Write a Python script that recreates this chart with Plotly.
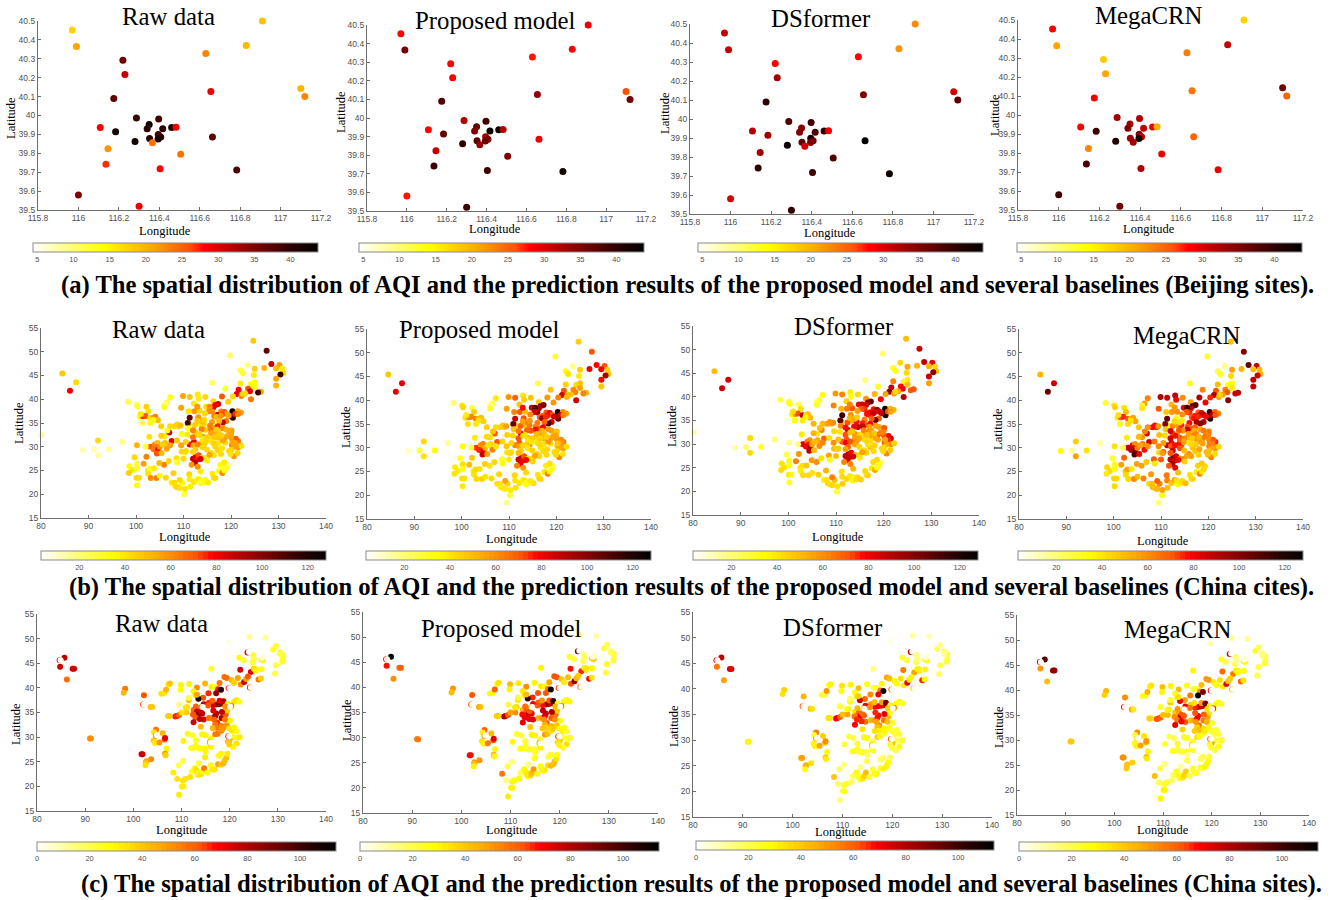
import plotly.graph_objects as go

W, H = 1333, 900
MODELS = ["Raw data", "Proposed model", "DSformer", "MegaCRN"]
CAPTIONS = [
    "(a) The spatial distribution of AQI and the prediction results of the proposed model and several baselines (Beijing sites).",
    "(b) The spatial distribution of AQI and the prediction results of the proposed model and several baselines (China cites).",
    "(c) The spatial distribution of AQI and the prediction results of the proposed model and several baselines (China sites).",
]

BJ_LON = [115.97,115.99,116.22,116.23,116.63,116.83,116.91,116.655,117.1,117.12,116.175,116.287,116.397,116.35,116.34,116.417,116.461,116.483,116.108,116.184,116.395,116.407,116.394,116.352,116.28,116.366,116.146,116.506,116.136,116.404,116.783,116.663,116.0,116.3]
BJ_LAT = [40.453,40.365,40.292,40.217,40.328,40.37,40.5,40.127,40.143,40.1,40.09,39.987,39.982,39.953,39.93,39.93,39.937,39.938,39.937,39.914,39.899,39.886,39.876,39.878,39.862,39.856,39.824,39.795,39.742,39.718,39.712,39.886,39.58,39.52]
BJ_RAW = [17.5,21,36,31,23,19.5,19,29,19.5,23,37,39,39,43,40,40,41,29,28.5,42,39,40,42,40,42,24,22,24,27,28,38,37,35,29]
BJ_PROPOSED = [28,36,28,28.5,27.5,28,29,34,26,36,38,32,39,37,35,43,42,32,28,37,33,35,36,37,40,34,31,35,39,39,42,29,27.5,39]
BJ_DSFORMER = [31,31,28,33,28,22,22.5,35,30,37,40,38,39,35,35,38,40,29,32,33,42,36,35,37,43,30,33,38,40,39,43,44,30,40]
BJ_MEGACRN = [28.5,21,18,21,23.5,31,17.5,24,36,25,29,33,32,33,35,31,29,20,28.5,39,35,31,43,33,41,33,23,29,38,32,29,25,39,36]

CITY_LON = [
124.7,127.5,119.8,128.5,123.5,127.0,125.0,122.0,122.5,124.8,
130.2,129.5,130.8,131.0,130.4,129.5,129.5,125.0,124.2,125.0,
122.0,118.8,116.1,121.6,123.6,124.0,121.2,122.2,120.4,123.0,
122.5,126.3,125.7,124.2,118.1,116.3,119.4,117.3,116.7,116.3,
109.9,111.3,113.0,113.2,114.6,107.2,106.5,106.0,106.0,109.5,
111.1,112.3,113.4,112.2,112.9,114.8,115.5,116.0,115.4,114.5,
117.9,118.6,119.1,117.1,118.1,116.5,117.0,117.8,120.3,120.4,
120.0,121.4,122.1,119.5,120.9,121.5,119.0,118.3,117.5,116.0,
113.6,114.3,112.4,111.2,110.9,111.3,113.1,113.9,114.4,112.9,
115.6,116.4,117.2,118.3,117.0,115.6,114.6,113.8,112.5,111.0,
109.0,108.2,107.2,108.7,109.4,107.0,107.5,109.6,106.6,110.8,
111.3,112.2,112.1,112.0,114.3,113.9,113.0,114.0,112.5,110.5,
112.0,112.6,112.9,112.4,113.2,111.7,114.0,113.6,112.0,114.9,
103.0,103.5,104.0,104.5,104.2,103.7,104.6,104.4,105.4,105.0,
100.2,102.2,106.5,106.1,107.2,105.6,106.0,102.0,105.9,106.9,
99.7,100.2,98.6,99.2,100.2,98.5,100.1,100.6,100.2,101.6,
102.5,102.9,102.6,103.1,103.8,104.3,104.9,106.3,105.0,107.9,
107.5,108.1,108.3,108.7,109.2,109.7,110.2,110.3,109.2,111.4,
111.2,111.3,112.2,112.9,113.3,113.5,113.8,114.2,114.5,115.2,
116.1,116.7,116.4,117.5,118.2,118.6,119.3,119.0,117.8,118.6,
115.9,115.0,116.4,115.5,114.9,117.2,117.9,117.3,118.1,116.7,
118.8,119.4,120.3,120.6,121.5,121.0,120.0,120.9,120.2,121.5,
122.2,120.6,120.1,119.6,120.6,121.4,120.3,119.9,120.0,118.8,
117.3,116.8,117.4,118.3,116.2,119.0,120.1,119.9,118.0,115.8,
109.5,109.6,110.3,110.0,108.5,108.7,113.0,113.6,114.0,105.3,
84.5,87.4,86.1,92.0,88.8,91.1,92.0,94.3,97.1,80.1,
98.3,100.1,100.3,102.2,102.6,100.8,101.5,102.0,101.0,101.3,
103.0,103.7,104.1,104.6,103.6,103.0,105.3,102.8,108.6,109.5,
113.4,114.0,115.0,116.0,116.6,113.0,112.0,110.5,114.8,116.4,
]
CITY_LAT = [
52.3,50.2,49.2,47.4,47.2,46.6,46.4,46.1,45.5,45.1,
47.2,46.5,46.4,45.5,45.2,44.3,42.9,43.6,43.2,42.6,
43.3,42.2,43.5,42.0,42.2,41.7,41.1,40.7,40.6,41.2,
41.1,41.6,41.4,40.0,40.6,39.6,39.5,39.0,38.8,38.3,
40.7,40.5,41.0,40.1,40.5,40.4,39.3,38.9,38.3,38.2,
37.5,37.5,37.6,39.1,38.4,38.4,38.4,37.4,37.5,37.0,
37.4,37.3,36.9,36.7,36.8,36.4,36.2,36.5,37.5,36.1,
36.5,37.5,37.2,36.6,36.9,36.9,35.4,35.1,35.4,35.2,
34.7,34.8,34.6,34.8,35.0,36.1,36.2,35.3,35.7,35.5,
34.4,34.0,34.3,33.9,33.6,33.8,33.6,33.7,33.0,33.9,
34.3,34.3,34.3,34.7,34.5,33.0,31.2,32.7,33.4,32.6,
30.5,31.0,30.3,32.0,30.6,30.9,30.5,29.9,29.4,29.1,
27.5,27.9,27.3,26.6,28.2,26.2,27.7,27.4,28.9,27.7,
30.0,30.0,30.5,30.8,29.9,29.5,29.3,28.6,28.7,30.0,
30.3,27.9,29.6,30.8,30.3,30.5,32.2,30.0,26.2,27.0,
27.8,26.5,25.9,25.1,25.5,24.5,23.5,23.5,21.9,26.4,
25.0,25.4,24.3,23.4,25.5,23.4,26.6,23.5,23.9,24.4,
22.4,22.4,21.7,21.5,21.3,22.4,20.0,21.1,23.0,21.6,
24.2,23.1,22.6,23.2,23.1,22.3,22.7,22.5,23.0,22.5,
24.3,23.4,23.5,24.9,24.5,25.0,26.1,25.4,26.2,26.7,
28.7,27.1,28.2,28.3,29.4,29.3,28.5,30.7,29.7,30.0,
32.0,32.4,31.5,31.3,31.2,31.7,32.0,30.8,30.3,29.9,
30.2,30.0,29.3,29.1,28.0,28.7,30.9,28.5,32.9,30.9,
31.9,32.6,32.9,31.3,31.8,33.6,33.4,32.5,32.3,32.9,
30.3,29.0,28.9,27.5,27.6,26.7,25.8,24.8,32.1,32.3,
45.4,43.6,41.8,31.3,29.3,29.4,28.2,29.4,31.0,32.5,
39.4,38.9,38.5,38.4,37.5,36.3,36.4,36.5,36.9,35.0,
36.1,36.1,36.3,35.6,35.7,35.0,34.3,32.1,31.3,18.4,
32.7,31.7,32.0,31.0,32.0,32.5,33.5,31.0,31.2,30.7,
]
CITY_RAW = [
48,105,22,85,20,52,45,25,28,38,
55,50,38,42,115,55,52,35,35,35,
38,28,22,80,72,82,82,62,42,42,
42,55,112,65,70,42,45,85,80,80,
55,48,38,38,42,32,25,18,32,55,
40,58,42,38,58,42,60,60,60,42,
62,70,55,88,72,62,50,58,125,118,
115,55,55,55,75,62,65,85,50,55,
38,45,45,40,112,105,58,48,42,48,
62,55,75,60,45,65,48,62,45,30,
48,42,42,45,50,85,82,35,30,38,
80,82,52,65,50,42,62,42,45,42,
85,85,78,88,70,58,40,85,42,38,
65,70,62,50,65,65,78,70,50,60,
52,62,55,50,55,45,38,25,62,42,
42,28,35,38,30,45,42,42,35,55,
38,30,40,60,38,62,50,42,35,45,
38,42,40,42,40,35,25,40,42,38,
42,38,40,32,38,30,28,32,35,38,
38,42,42,32,62,35,22,30,35,38,
40,38,40,55,42,45,42,38,40,42,
55,52,62,62,65,68,55,55,62,58,
40,55,45,42,58,42,55,40,58,42,
48,52,48,55,45,52,55,55,45,55,
55,42,42,42,40,30,60,38,60,45,
48,42,82,42,12,12,15,14,18,18,
25,20,30,45,40,35,75,72,38,25,
40,60,62,50,35,35,45,40,48,3,
42,38,45,38,48,42,62,45,42,45,
]
CITY_PROPOSED = [
45,72,30,80,18,82,45,35,40,38,
70,80,45,48,92,78,48,50,42,55,
45,48,25,72,60,62,85,50,62,48,
50,52,62,85,58,48,58,102,98,92,
58,68,40,45,48,38,25,18,32,55,
62,72,50,48,78,85,108,95,85,62,
70,82,70,68,78,68,95,75,122,105,
100,60,55,85,85,62,85,112,68,65,
45,65,68,50,105,85,72,62,58,55,
62,68,80,58,52,78,70,68,82,48,
45,42,42,48,55,72,72,45,48,42,
62,72,55,72,62,48,42,38,45,38,
85,88,80,82,72,62,45,80,50,40,
72,75,60,62,60,75,82,85,55,50,
35,48,62,42,40,40,40,25,40,42,
30,40,38,38,32,40,42,40,38,50,
38,42,40,42,40,45,45,42,40,42,
40,40,38,38,38,42,30,38,55,40,
42,40,40,35,40,30,32,32,38,40,
40,42,42,40,62,35,25,32,38,40,
42,45,42,55,45,42,42,40,42,40,
58,55,65,62,62,60,58,58,48,55,
40,55,42,42,62,40,48,42,45,42,
50,58,50,58,42,55,48,55,45,50,
48,40,42,38,30,35,58,42,50,42,
48,82,82,42,10,28,40,35,15,3,
22,38,42,25,45,40,60,62,38,40,
62,45,50,45,40,38,45,38,42,18,
40,40,48,40,45,42,65,42,40,42,
]
CITY_DSFORMER = [
50,85,22,88,42,52,55,30,35,42,
80,52,42,50,100,85,55,38,35,50,
62,30,20,88,78,80,100,58,55,55,
42,72,70,90,52,58,80,105,100,85,
58,62,38,35,42,35,30,25,30,62,
52,65,70,45,62,80,85,75,72,55,
78,100,85,80,82,78,78,88,125,122,
118,52,52,88,72,55,68,105,72,62,
50,78,72,48,108,115,58,55,45,52,
75,70,78,55,55,85,90,80,88,62,
52,55,52,58,60,62,68,42,50,38,
72,72,80,72,60,58,70,55,68,45,
85,90,85,85,80,62,52,85,55,42,
78,85,65,60,75,80,90,90,50,55,
18,58,60,55,62,50,38,20,60,40,
25,32,40,40,35,42,38,35,30,62,
40,40,38,42,48,42,58,45,40,52,
38,40,42,40,42,50,28,40,62,45,
40,42,42,40,38,35,35,40,42,45,
42,45,42,38,55,35,25,30,42,42,
42,38,45,55,42,48,42,42,45,40,
72,62,80,82,85,80,70,75,72,60,
45,55,42,42,62,48,55,42,55,55,
55,62,55,55,50,55,70,62,48,62,
60,50,45,50,55,35,62,52,60,52,
50,85,85,42,12,22,42,30,20,18,
25,30,32,25,40,38,60,70,40,35,
85,30,50,50,35,38,52,38,40,3,
50,55,42,45,50,48,78,50,55,42,
]
CITY_MEGACRN = [
50,100,30,105,18,52,55,25,30,42,
88,50,50,52,85,88,85,32,35,38,
50,62,32,72,62,72,92,55,75,60,
45,88,85,100,90,55,80,105,110,90,
92,85,88,80,60,62,55,28,38,72,
48,58,60,50,58,80,112,75,72,60,
72,85,88,78,85,70,78,75,112,120,
118,68,62,80,90,72,90,100,92,78,
58,75,60,35,100,105,35,40,38,42,
72,72,68,55,52,85,60,72,72,48,
75,78,58,78,58,85,85,50,62,42,
88,82,72,85,72,78,78,72,85,70,
88,100,85,95,85,72,62,80,70,60,
85,88,80,60,85,90,102,110,80,62,
40,68,78,62,58,55,58,25,55,48,
28,32,42,42,35,38,45,42,42,55,
48,55,42,42,38,62,55,62,50,58,
42,48,52,50,52,62,35,55,68,50,
65,62,48,55,40,35,38,38,42,50,
40,42,42,38,62,38,42,42,45,48,
62,45,55,55,50,45,45,48,55,50,
62,65,72,72,75,70,60,62,65,58,
42,55,50,50,62,42,62,50,62,55,
58,62,62,55,48,65,62,62,52,55,
60,42,58,68,72,38,82,50,70,50,
52,85,105,45,35,18,55,40,15,3,
30,38,45,40,50,38,72,75,40,35,
72,40,55,55,40,42,48,38,65,20,
62,68,60,38,48,78,85,55,55,42,
]

SITE_LON = [
85.7,84.8,87.4,87.7,86.2,91.0,91.2,98.3,98.0,102.2,
103.6,103.9,105.8,106.4,106.8,107.3,107.6,109.9,109.8,111.6,
113.2,112.5,112.9,114.9,116.2,116.2,116.9,117.6,117.2,118.2,
118.9,119.4,117.9,120.4,121.7,120.9,122.3,123.0,123.4,124.3,
126.0,126.5,122.2,124.4,123.8,125.0,125.4,126.6,129.4,129.6,
122.0,122.9,124.9,124.8,126.6,126.9,129.0,129.6,130.4,131.0,
130.4,131.0,130.9,124.1,127.4,119.7,125.0,125.4,126.7,127.0,
117.1,117.7,118.2,118.8,116.5,115.7,117.9,118.7,114.5,113.5,
113.2,115.6,114.6,115.5,116.4,119.6,120.4,120.9,121.4,122.0,
112.5,113.0,113.2,113.6,114.3,113.9,112.4,111.0,111.2,112.9,
114.6,115.7,116.4,117.0,117.2,118.3,117.4,117.0,116.8,113.8,
112.5,114.0,114.3,115.0,114.4,112.2,111.3,113.0,110.4,116.1,
109.0,108.7,109.5,107.2,107.5,110.9,109.5,110.0,111.5,111.5,
104.7,104.3,104.2,104.5,105.4,106.1,106.5,106.6,106.9,106.6,
106.7,101.7,101.9,102.7,102.6,102.5,103.7,109.4,110.3,108.3,
109.1,110.1,110.4,109.5,110.3,110.8,111.8,112.1,112.8,113.1,
113.5,113.8,113.3,114.1,114.4,114.7,115.4,113.6,116.1,116.7,
116.9,116.4,117.6,118.2,118.7,119.0,119.3,119.5,118.2,117.7,
112.0,112.6,113.0,113.6,114.0,114.9,115.0,114.9,116.1,115.9,
117.0,117.5,118.3,118.8,119.4,119.9,120.3,120.6,121.4,120.9,
120.2,120.6,121.6,122.1,120.0,119.6,121.4,120.7,119.9,120.1,
119.0,118.3,117.3,116.5,118.5,119.2,119.5,118.4,119.1,116.6,
84.7,123.7,102.0,104.7,119.8,120.3,119.7,115.9,124.2,114.2,
84.9,124.0,102.2,104.9,120.0,120.1,119.9,116.1,124.4,114.4,
]
SITE_LAT = [
46.1,44.3,43.9,43.9,41.7,29.7,29.7,39.8,39.0,38.5,
36.1,36.1,38.8,38.9,39.6,40.7,40.9,40.6,39.6,40.8,
40.1,39.3,38.5,40.9,43.9,40.2,40.2,39.7,38.9,39.6,
42.2,42.0,41.0,41.6,42.0,41.0,40.7,41.2,41.8,40.1,
41.7,41.9,43.7,43.2,42.3,43.9,43.8,43.8,42.9,44.6,
46.1,45.6,46.6,45.2,45.8,45.6,47.8,48.5,47.3,46.7,
46.9,45.8,45.3,50.4,50.2,49.3,45.9,43.5,46.1,46.3,
36.6,36.7,36.8,36.9,36.5,37.0,37.4,37.3,38.0,37.8,
38.6,38.9,36.7,36.4,37.4,36.8,36.2,37.2,37.5,37.2,
35.5,36.2,35.2,34.7,34.8,35.3,34.6,35.0,36.1,34.0,
33.6,33.9,33.9,34.3,34.8,33.9,32.9,32.6,33.6,33.7,
33.0,32.1,30.6,30.4,30.5,30.4,30.7,29.3,29.2,29.7,
34.3,34.2,34.5,34.3,34.3,36.0,36.6,35.0,37.5,38.0,
31.5,31.0,29.3,28.8,28.9,30.8,29.5,29.8,27.7,26.6,
26.3,26.5,26.5,25.1,24.9,24.3,25.5,24.3,25.2,22.8,
21.5,20.0,20.0,18.3,21.2,21.5,21.9,23.0,23.7,23.2,
22.3,22.7,22.7,22.5,23.0,23.7,22.8,24.7,24.3,23.4,
23.5,23.5,24.5,24.4,24.7,25.3,25.8,26.6,26.6,26.2,
27.8,27.9,28.2,27.7,27.7,27.7,27.1,25.9,28.0,28.7,
30.6,30.7,31.3,32.0,32.4,31.8,31.6,31.3,31.2,32.0,
30.3,30.0,29.9,30.0,29.4,29.1,28.7,28.0,28.5,33.4,
33.6,32.3,31.9,31.8,31.7,34.6,35.4,35.1,36.2,35.4,
45.6,47.2,36.6,30.3,39.9,36.3,30.2,29.0,40.1,36.1,
45.6,47.3,36.6,30.4,39.9,36.2,30.2,28.9,40.1,36.1,
]
SITE_RAW = [
78,75,75,75,58,52,52,55,45,62,
42,40,35,32,45,35,40,30,28,30,
52,30,30,45,25,30,28,68,85,105,
58,58,55,42,48,38,52,78,48,28,
55,38,75,72,62,38,35,28,20,22,
28,25,22,22,32,30,25,22,22,25,
20,25,24,12,10,3,22,30,5,5,
78,88,85,88,75,65,72,80,62,108,
48,65,78,62,60,30,22,32,35,28,
58,60,78,88,78,75,62,40,35,62,
72,58,55,85,80,82,65,55,60,78,
75,42,28,30,30,25,28,25,30,28,
70,65,60,38,38,35,15,35,40,20,
58,35,38,32,50,42,62,72,30,50,
38,75,75,50,42,35,52,20,20,32,
35,32,32,32,35,35,35,25,30,35,
35,30,30,35,28,55,28,22,28,35,
35,32,48,40,45,42,42,32,30,28,
28,28,28,28,28,30,30,32,30,35,
55,55,52,48,50,35,32,35,28,30,
28,30,28,32,45,40,35,30,38,30,
55,52,55,45,50,60,38,78,52,72,
70,75,62,50,65,60,65,48,65,55,
1,1,1,1,1,1,1,1,1,1,
]
SITE_PROPOSED = [
110,68,60,60,52,55,55,50,42,62,
48,42,28,28,60,28,35,42,30,32,
52,32,35,30,30,32,28,55,62,112,
62,62,48,40,42,32,62,85,45,28,
70,35,68,65,40,30,35,30,22,25,
25,22,15,20,42,38,22,18,15,22,
18,22,22,12,10,3,18,32,5,5,
78,85,82,92,68,60,62,100,65,100,
42,62,72,62,50,28,25,30,28,30,
45,58,62,78,72,62,68,52,38,70,
72,45,52,72,75,62,60,45,52,72,
72,40,28,30,30,22,22,25,28,25,
72,80,62,38,38,32,22,48,35,25,
60,30,35,30,55,42,62,72,30,45,
30,68,68,52,45,30,50,20,15,55,
15,30,30,32,28,28,28,18,30,30,
30,38,32,38,45,50,28,15,28,30,
35,30,35,42,42,42,35,28,25,22,
28,28,25,25,25,25,25,25,30,32,
50,42,32,30,40,30,25,30,25,28,
30,25,25,25,40,35,35,25,30,28,
52,42,38,40,40,55,40,82,45,78,
68,90,62,48,65,60,65,48,55,50,
1,1,1,1,1,1,1,1,1,1,
]
SITE_DSFORMER = [
78,55,72,72,48,30,30,38,35,45,
45,35,22,22,50,28,30,35,28,30,
42,28,35,25,15,20,22,55,72,108,
48,42,30,30,35,28,32,72,32,22,
65,28,55,48,30,30,32,30,18,20,
22,20,15,18,30,28,18,12,18,22,
12,20,22,10,8,3,15,30,5,5,
68,72,70,85,70,50,48,92,58,75,
38,52,70,52,42,28,25,28,28,25,
35,45,60,72,62,58,55,48,28,65,
58,45,48,65,68,55,50,42,48,65,
70,35,30,28,28,20,20,25,22,22,
72,70,60,35,35,28,22,42,28,18,
55,25,30,30,48,38,42,52,28,42,
32,48,48,48,45,28,35,18,15,40,
18,25,25,15,25,25,18,18,28,25,
25,30,25,35,38,42,25,12,22,28,
30,28,25,30,30,30,28,18,18,18,
25,25,25,25,22,22,18,20,25,25,
38,30,25,25,28,22,22,22,22,22,
22,20,20,22,42,25,28,20,22,22,
42,30,32,35,28,42,28,72,38,65,
70,75,62,48,60,60,60,42,40,40,
1,1,1,1,1,1,1,1,1,1,
]
SITE_MEGACRN = [
95,50,85,85,42,40,40,45,38,52,
50,32,25,28,45,30,35,42,30,30,
42,28,30,28,30,22,25,52,112,90,
50,50,42,32,35,28,32,70,40,25,
60,35,58,55,38,32,32,28,20,20,
25,20,18,20,30,28,25,18,15,22,
15,20,22,12,10,8,15,28,5,5,
72,78,75,88,65,42,48,90,48,72,
35,55,72,55,35,28,25,28,28,25,
40,50,48,75,62,62,52,42,32,55,
62,42,48,68,70,55,58,38,50,70,
72,38,28,25,25,20,18,25,22,25,
62,62,60,38,38,30,22,42,40,22,
52,25,28,30,48,35,42,50,30,45,
32,52,52,45,40,40,38,20,15,42,
18,30,30,30,25,25,18,18,28,25,
25,30,28,35,38,38,22,10,25,28,
25,25,25,25,30,30,28,25,22,18,
25,25,22,22,22,25,15,20,25,25,
35,28,25,25,30,25,22,22,22,22,
25,22,22,22,48,25,28,22,25,22,
45,35,42,38,32,48,35,60,35,62,
75,75,72,38,70,68,62,38,45,42,
1,1,1,1,1,1,1,1,1,1,
]

BJ_X_TICKS = [115.8,116,116.2,116.4,116.6,116.8,117,117.2]
BJ_Y_TICKS = [39.5,39.6,39.7,39.8,39.9,40,40.1,40.2,40.3,40.4,40.5]
CN_X_TICKS = [80,90,100,110,120,130,140]
CN_Y_TICKS = [15,20,25,30,35,40,45,50,55]

ROWS = [
    dict(lon=BJ_LON, lat=BJ_LAT, vals=[BJ_RAW,BJ_PROPOSED,BJ_DSFORMER,BJ_MEGACRN],
         xt=BJ_X_TICKS, yt=BJ_Y_TICKS, xr=[115.8,117.2], yr=[39.5,40.5],
         c=[4.4,43.8], ct=[5,10,15,20,25,30,35,40], ms=7, levels=256),
    dict(lon=CITY_LON, lat=CITY_LAT, vals=[CITY_RAW,CITY_PROPOSED,CITY_DSFORMER,CITY_MEGACRN],
         xt=CN_X_TICKS, yt=CN_Y_TICKS, xr=[80,140], yr=[15,55],
         c=[3.2,128], ct=[20,40,60,80,100,120], ms=6, levels=58),
    dict(lon=SITE_LON, lat=SITE_LAT, vals=[SITE_RAW,SITE_PROPOSED,SITE_DSFORMER,SITE_MEGACRN],
         xt=CN_X_TICKS, yt=CN_Y_TICKS, xr=[80,140], yr=[15,55],
         c=[0,113.7], ct=[0,20,40,60,80,100], ms=6, levels=58),
]
for r in ROWS:
    for v in r["vals"]:
        assert len(r["lon"]) == len(r["lat"]) == len(v), (len(r["lon"]), len(r["lat"]), len(v))

# page layout, in pixels
AXES = [
    [(38,321,21,210),(367,646,25,211),(690,974,24,214),(1018,1303,20,210)],
    [(41,326,328,518),(367,651,329,519),(693,979,326,515),(1019,1303,329,519)],
    [(37,326,614,811),(363,658,612,813),(693,992,612,817),(1017,1309,615,815)],
]
CBARS = [
    [(33,318,243),(359,644,243),(698,983,243),(1017,1302,243)],
    [(41,326,551),(366,651,551),(693,978,551),(1018,1303,551)],
    [(37,336,842),(360,659,842),(696,994,841),(1019,1318,842)],
]
TITLES = [
    [(168,16),(495,20),(821,18),(1149,15)],
    [(158,329),(479,329),(844,327),(1187,336)],
    [(161,623),(501,628),(833,627),(1178,629)],
]
LONS = [
    [(165,231),(495,229),(830,233),(1149,229)],
    [(185,537),(512,539),(838,537),(1163,541)],
    [(182,830),(512,830),(841,832),(1163,830)],
]
LATS = [
    [(11,118),(341,112),(665,113),(995,115)],
    [(19,423),(346,427),(672,426),(998,429)],
    [(16,724),(347,720),(674,726),(999,727)],
]
CAPS = [(59,285),(67,587),(79,884)]

ANCHORS = [(0,"#ffffff"),(0.25,"#ffff00"),(0.42,"#ffa500"),(0.55,"#ff5000"),(0.6,"#ff0000"),
           (0.68,"#c00000"),(0.78,"#800000"),(0.9,"#300000"),(1,"#000000")]

def rgb(h):
    return tuple(int(h[i:i+2],16) for i in (1,3,5))

def color_at(t):
    for (a,ca),(b,cb) in zip(ANCHORS, ANCHORS[1:]):
        if t <= b:
            f = (t-a)/(b-a)
            ra, rb = rgb(ca), rgb(cb)
            return "rgb(%d,%d,%d)" % tuple(round(x+(y-x)*f) for x,y in zip(ra,rb))
    return "rgb(0,0,0)"

def stepped(n):
    out = []
    for i in range(n):
        c = color_at((i+0.5)/n)
        out += [[i/n,c],[(i+1)/n,c]]
    return out

TICK_FONT = dict(family="Liberation Sans, Arial, sans-serif", size=8.5, color="#505050")
SERIF = "Liberation Serif, Times New Roman, serif"
AXIS_COLOR = "#6e6e6e"

def fmt(v):
    return f"{v:g}"

fig = go.Figure()
layout = dict(width=W, height=H, margin=dict(l=0,r=0,t=0,b=0,autoexpand=False), autosize=False,
              paper_bgcolor="white", plot_bgcolor="white", showlegend=False)
ann = []
def add_text(text, x, y, size, anchor="center", angle=0, bold=False):
    ann.append(dict(text=f"<b>{text}</b>" if bold else text, x=x/W, y=1-y/H, xref="paper", yref="paper",
                    xanchor=anchor, yanchor="middle", showarrow=False, textangle=angle,
                    font=dict(family=SERIF, size=size, color="black")))

k = 0
for ri, r in enumerate(ROWS):
    scale = stepped(r["levels"])
    for ci, model in enumerate(MODELS):
        k += 1
        x0,x1,y0,y1 = AXES[ri][ci]
        sfx = "" if k == 1 else str(k)
        for name, dom, rng, tv, anchor in (("xaxis",[x0/W,x1/W],r["xr"],r["xt"],"y"+sfx),
                                           ("yaxis",[1-y1/H,1-y0/H],r["yr"],r["yt"],"x"+sfx)):
            layout[name+sfx] = dict(domain=dom, range=rng, anchor=anchor, tickmode="array", tickvals=tv,
                                    ticktext=[fmt(t) for t in tv], ticks="inside", ticklen=3, tickwidth=1,
                                    tickcolor=AXIS_COLOR, showline=True, linecolor=AXIS_COLOR, linewidth=1.3,
                                    showgrid=False, zeroline=False, tickfont=TICK_FONT, tickangle=0,
                                    automargin=False)
        cx0,cx1,cy = CBARS[ri][ci]
        fig.add_trace(go.Scatter(
            x=r["lon"], y=r["lat"], xaxis="x"+sfx, yaxis="y"+sfx, mode="markers", cliponaxis=False,
            name=model, hoverinfo="skip",
            marker=dict(size=r["ms"], color=r["vals"][ci], cmin=r["c"][0], cmax=r["c"][1],
                        colorscale=scale, line=dict(width=0), opacity=1,
                        colorbar=dict(orientation="h", x=cx0/W, xanchor="left", y=1-cy/H, yanchor="top",
                                      lenmode="pixels", len=cx1-cx0, thicknessmode="pixels", thickness=9,
                                      xpad=0, ypad=0, outlinecolor="#8a8a8a", outlinewidth=1, borderwidth=0,
                                      tickmode="array", tickvals=r["ct"], ticktext=[str(t) for t in r["ct"]],
                                      ticks="", tickfont=dict(TICK_FONT, size=7.5)))))
        add_text(model, *TITLES[ri][ci], 24.8)
        add_text("Longitude", *LONS[ri][ci], 12.5)
        add_text("Latitude", *LATS[ri][ci], 12.5, angle=-90)
    add_text(CAPTIONS[ri], *CAPS[ri], 24.6, anchor="left", bold=True)

layout["annotations"] = ann
fig.update_layout(**layout)
fig.write_html("out.html", post_script="document.body.style.margin='0';document.documentElement.style.overflow='hidden';",
               config=dict(displayModeBar=False, responsive=False))
